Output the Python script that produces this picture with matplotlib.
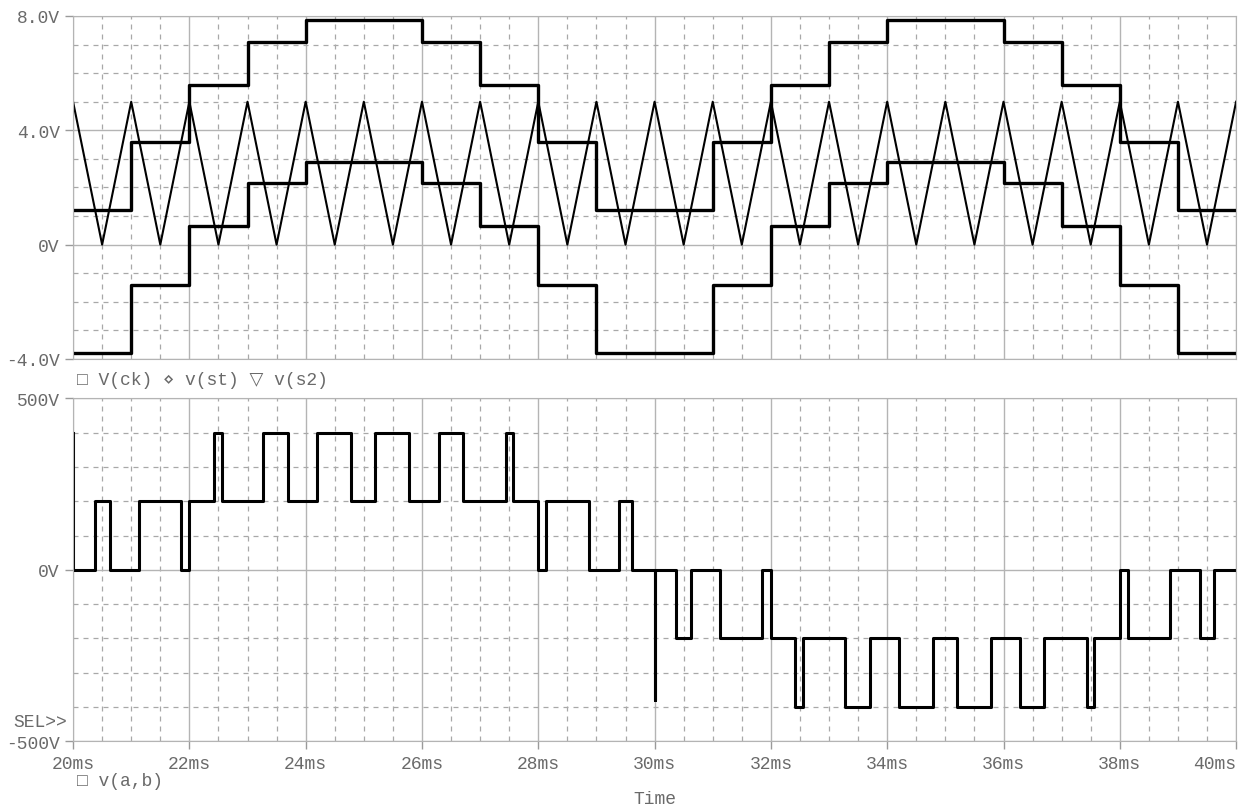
import numpy as np
import matplotlib.pyplot as plt
from matplotlib.ticker import MultipleLocator

# top panel: sampled staircases (1 ms steps, 20..40 ms) and triangle carrier
stair_t = [20, 21, 22, 23, 24, 25, 26, 27, 28, 29, 30, 31, 32, 33, 34, 35, 36, 37, 38, 39, 40]
stair_hi = [1.2, 3.6, 5.6, 7.1, 7.85, 7.85, 7.1, 5.6, 3.6, 1.2, 1.2, 3.6, 5.6, 7.1, 7.85, 7.85, 7.1, 5.6, 3.6, 1.2, 1.2]
stair_lo = [-3.8, -1.4, 0.65, 2.15, 2.9, 2.9, 2.15, 0.65, -1.4, -3.8, -3.8, -1.4, 0.65, 2.15, 2.9, 2.9, 2.15, 0.65, -1.4, -3.8, -3.8]

tri_t = [20, 20.5, 21, 21.5, 22, 22.5, 23, 23.5, 24, 24.5, 25, 25.5, 26, 26.5, 27, 27.5, 28, 28.5, 29, 29.5,
         30, 30.5, 31, 31.5, 32, 32.5, 33, 33.5, 34, 34.5, 35, 35.5, 36, 36.5, 37, 37.5, 38, 38.5, 39, 39.5, 40]
tri_v = [5, 0, 5, 0, 5, 0, 5, 0, 5, 0, 5, 0, 5, 0, 5, 0, 5, 0, 5, 0,
         5, 0, 5, 0, 5, 0, 5, 0, 5, 0, 5, 0, 5, 0, 5, 0, 5, 0, 5, 0, 5]

# bottom panel: v(a,b) switching edges (ms) and level after each edge (V)
vab_t = [20, 20, 20.37, 20.63, 21.13, 21.86, 22.0, 22.43, 22.56, 23.27, 23.70, 24.19, 24.78, 25.19, 25.78,
         26.29, 26.70, 27.44, 27.56, 28.0, 28.14, 28.87, 29.38, 29.62, 30.0, 30.0,
         30.37, 30.62, 31.13, 31.85, 32.0, 32.42, 32.56, 33.28, 33.71, 34.20, 34.79, 35.20, 35.79,
         36.28, 36.70, 37.43, 37.56, 38.0, 38.14, 38.87, 39.38, 39.62, 40]
vab_v = [400, 0, 200, 0, 200, 0, 200, 400, 200, 400, 200, 400, 200, 400, 200,
         400, 200, 400, 200, 0, 200, 0, 200, 0, -380, 0,
         -200, 0, -200, 0, -200, -400, -200, -400, -200, -400, -200, -400, -200,
         -400, -200, -400, -200, 0, -200, 0, -200, 0, 0]

txt = '#6a6a6a'
mono = ['Liberation Mono', 'DejaVu Sans']
plt.rcParams['font.family'] = mono

fig = plt.figure(figsize=(12.51, 8.12), dpi=100)
ax1 = fig.add_axes([0.0584, 0.5567, 0.9297, 0.4224])
ax2 = fig.add_axes([0.0584, 0.0858, 0.9297, 0.4224])

for ax in (ax1, ax2):
    ax.set_xlim(20, 40)
    ax.xaxis.set_major_locator(MultipleLocator(2))
    ax.xaxis.set_minor_locator(MultipleLocator(0.5))
    ax.grid(which='major', color='#b4b4b4', lw=1.0, ls='-')
    ax.grid(which='minor', color='#a8a8a8', lw=0.9, ls=(0, (4, 4)))
    ax.set_axisbelow(True)
    for s in ax.spines.values():
        s.set_color('#b4b4b4')
    ax.tick_params(which='minor', length=0)
    ax.tick_params(which='major', colors='#9a9a9a', labelcolor=txt, labelsize=13, length=6, width=1)

ax1.set_ylim(-4, 8)
ax1.yaxis.set_major_locator(MultipleLocator(4))
ax1.yaxis.set_minor_locator(MultipleLocator(1))
ax1.set_yticks([-4, 0, 4, 8])
ax1.set_yticklabels(['-4.0V', '0V', '4.0V', '8.0V'])
ax1.tick_params(axis='x', labelbottom=False, length=0)

ax1.step(stair_t, stair_hi, where='post', color='black', lw=2.4)
ax1.step(stair_t, stair_lo, where='post', color='black', lw=2.4)
ax1.plot(tri_t, tri_v, color='black', lw=1.5)

ax2.set_ylim(-500, 500)
ax2.yaxis.set_minor_locator(MultipleLocator(100))
ax2.set_yticks([-500, 0, 500])
ax2.set_yticklabels(['-500V', '0V', '500V'])
ax2.set_xticks([20, 22, 24, 26, 28, 30, 32, 34, 36, 38, 40])
ax2.set_xticklabels(['20ms', '22ms', '24ms', '26ms', '28ms', '30ms', '32ms', '34ms', '36ms', '38ms', '40ms'])
ax2.get_xticklabels()[-1].set_horizontalalignment('right')
ax2.step(vab_t, vab_v, where='post', color='black', lw=2.2)

fig.text(77 / 1251, 1 - 381 / 812, '\u25a1 V(ck) \u22c4 v(st) \u25bd v(s2)', color=txt, fontsize=13, va='center', ha='left')
fig.text(77 / 1251, 1 - 782 / 812, '\u25a1 v(a,b)', color=txt, fontsize=13, va='center', ha='left')
fig.text(655 / 1251, 1 - 800 / 812, 'Time', color=txt, fontsize=13, va='center', ha='center')
fig.text(67 / 1251, 1 - 723 / 812, 'SEL>>', color=txt, fontsize=13, va='center', ha='right')

plt.savefig('out.png', dpi=100)
